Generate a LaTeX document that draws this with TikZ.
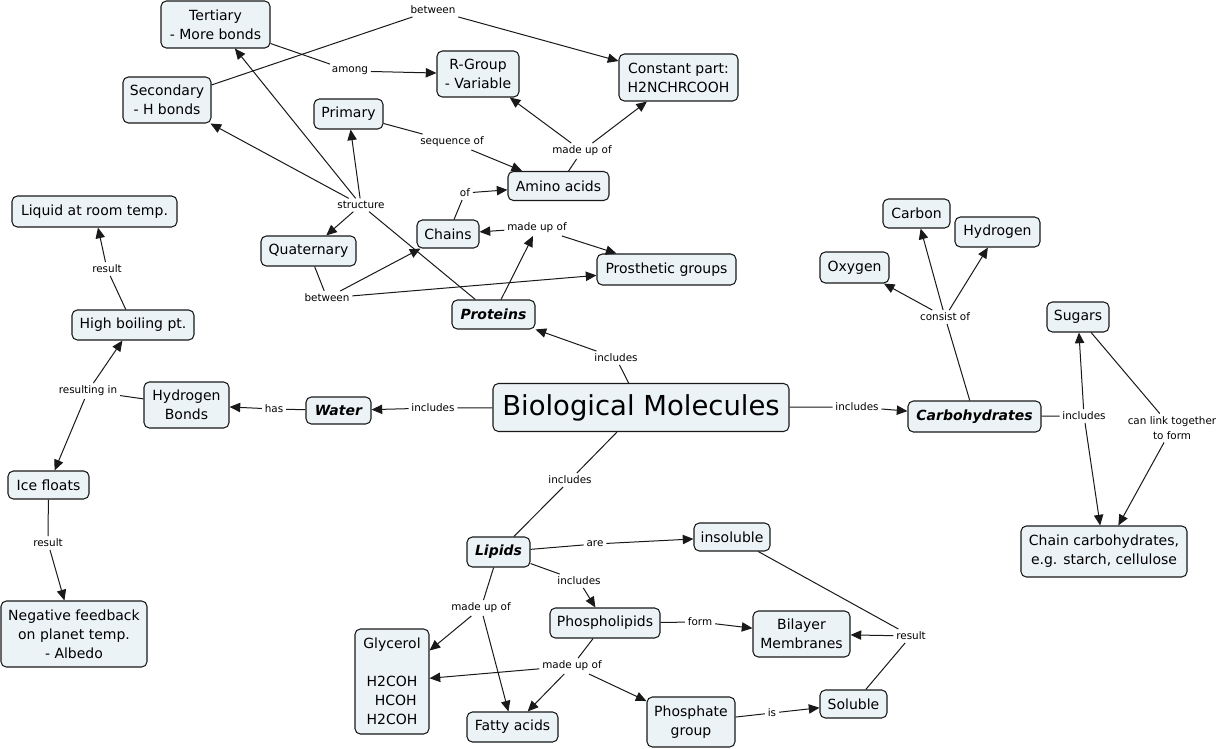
\documentclass[tikz,border=0pt]{standalone}
\usepackage{fontspec}
\setmainfont{DejaVu Sans}
\usetikzlibrary{arrows.meta}
\definecolor{cfill}{RGB}{236,243,246}
\definecolor{cline}{RGB}{25,25,25}
\begin{document}
\begin{tikzpicture}[x=0.75pt,y=-0.75pt,
 concept/.style={draw=cline, line width=0.8pt, fill=cfill, rounded corners=4pt, inner sep=0pt, align=center, font=\fontsize{10.5}{14.3}\selectfont},
 sz/.style 2 args={minimum width=#1*0.75pt, minimum height=#2*0.75pt},
 main/.style={font=\fontsize{10.5}{14.3}\selectfont\bfseries\itshape},
 lab/.style={inner sep=2pt, align=center, font=\fontsize{7.8}{11.2}\selectfont},
 arr/.style={-{Triangle[length=8pt,width=7pt]}, line width=0.75pt, draw=cline},
 ln/.style={line width=0.75pt, draw=cline},
]
\useasboundingbox (0,0) rectangle (1221,749);

% concepts
\node[concept, sz={109}{47}] (tert) at (215.5,24.5) {Tertiary\\- More bonds};
\node[concept, sz={88}{46}] (sec) at (167,100) {Secondary\\- H bonds};
\node[concept, sz={69}{30}] (prim) at (348.5,114) {Primary};
\node[concept, sz={82}{46}] (rgrp) at (478,74) {R-Group\\- Variable};
\node[concept, sz={119}{47}] (const) at (678.5,77.5) {Constant part:\\H2NCHRCOOH};
\node[concept, sz={101}{29}] (amino) at (558.5,186) {Amino acids};
\node[concept, sz={62}{28}] (chains) at (448,234) {Chains};
\node[concept, sz={95}{30}] (quat) at (308.5,251) {Quaternary};
\node[concept, sz={139}{31}] (prost) at (666.5,269.5) {Prosthetic groups};
\node[concept, main, sz={83}{29}] (prot) at (493.5,314.5) {Proteins};
\node[concept, sz={165}{31}] (liquid) at (94.5,211.5) {Liquid at room temp.};
\node[concept, sz={122}{30}] (hbp) at (133,325) {High boiling pt.};
\node[concept, sz={85}{46}] (hbond) at (186.5,405) {Hydrogen\\Bonds};
\node[concept, main, sz={65}{27}] (water) at (338.5,410.5) {Water};
\node[concept, sz={296}{48}, font=\fontsize{20.6}{24}\selectfont] (bm) at (641,407.5) {Biological Molecules};
\node[concept, sz={81}{28}] (ice) at (48.5,485) {Ice floats};
\node[concept, sz={146}{66}] (neg) at (74,634) {Negative feedback\\on planet temp.\\- Albedo};
\node[concept, sz={67}{29}] (carbon) at (916.5,213.5) {Carbon};
\node[concept, sz={85}{30}] (hydro) at (997.5,232) {Hydrogen};
\node[concept, sz={69}{31}] (oxy) at (854.5,267.5) {Oxygen};
\node[concept, sz={62}{30}] (sugars) at (1078,317) {Sugars};
\node[concept, main, sz={133}{31}] (carb) at (974.5,416.5) {Carbohydrates};
\node[concept, sz={166}{51}] (chaincarb) at (1104,551.5) {Chain carbohydrates,\\e.g. starch, cellulose};
\node[concept, main, sz={63}{30}] (lipids) at (498.5,552) {Lipids};
\node[concept, sz={76}{28}] (insol) at (732,537) {insoluble};
\node[concept, sz={110}{30}] (phospho) at (605,623) {Phospholipids};
\node[concept, sz={97}{46}] (bilayer) at (801.5,634) {Bilayer\\Membranes};
\node[concept, sz={74}{105}] (glyc) at (392,681.5) {Glycerol\\[14.3pt]H2COH\\\hspace*{0.55em}HCOH\\H2COH};
\node[concept, sz={91}{30}] (fatty) at (512.5,727) {Fatty acids};
\node[concept, sz={88}{50}] (phosph) at (691,722) {Phosphate\\group};
\node[concept, sz={67}{28}] (soluble) at (853.5,704) {Soluble};

% linking phrases
\node[lab] (lbtop) at (433,10) {between};
\node[lab] (lamong) at (350,71) {among};
\node[lab] (lstruct) at (361,205) {structure};
\node[lab] (lbbot) at (327,298) {between};
\node[lab] (lseq) at (452,142) {sequence of};
\node[lab] (lmtop) at (582,151) {made up of};
\node[lab] (lof) at (465,193) {of};
\node[lab] (lmmid) at (537,228) {made up of};
\node[lab] (liprot) at (616,358) {includes};
\node[lab] (lres1) at (107,269) {result};
\node[lab] (lresin) at (88,391) {resulting in};
\node[lab] (lhas) at (274,409) {has};
\node[lab] (liwater) at (433,408) {includes};
\node[lab] (lres2) at (48,543) {result};
\node[lab] (lconsist) at (945,317) {consist of};
\node[lab] (licarb) at (857,407) {includes};
\node[lab] (licarb2) at (1084,416) {includes};
\node[lab] (lcanlink) at (1172,428) {can link together\\to form};
\node[lab] (lilip) at (570,480) {includes};
\node[lab] (lare) at (595,544) {are};
\node[lab] (liphos) at (579,581) {includes};
\node[lab] (lmlip) at (481,608) {made up of};
\node[lab] (lform) at (700,622) {form};
\node[lab] (lres3) at (911,636) {result};
\node[lab] (lmphos) at (572,666) {made up of};
\node[lab] (lis) at (772,713) {is};

% proteins
\draw[ln] (bm) -- (liprot);
\draw[arr] (liprot) -- (prot);
\draw[ln] (prot) -- (lstruct);
\draw[arr] (lstruct) -- (prim);
\draw[arr] (lstruct) -- (sec);
\draw[arr] (lstruct) -- (tert);
\draw[arr] (lstruct) -- (quat);
\draw[ln] (quat) -- (lbbot);
\draw[arr] (lbbot) -- (chains);
\draw[arr] (lbbot) -- (prost);
\draw[arr] (prot) -- (lmmid);
\draw[arr] (lmmid) -- (chains);
\draw[arr] (lmmid) -- (prost);
\draw[ln] (chains) -- (lof);
\draw[arr] (lof) -- (amino);
\draw[ln] (prim) -- (lseq);
\draw[arr] (lseq) -- (amino);
\draw[ln] (amino) -- (lmtop);
\draw[arr] (lmtop) -- (rgrp);
\draw[arr] (lmtop) -- (const);
\draw[ln] (tert) -- (lamong);
\draw[arr] (lamong) -- (rgrp);
\draw[ln] (sec) -- (lbtop);
\draw[arr] (lbtop) -- (const);

% water
\draw[ln] (bm) -- (liwater);
\draw[arr] (liwater) -- (water);
\draw[ln] (water) -- (lhas);
\draw[arr] (lhas) -- (hbond);
\draw[ln] (hbond) -- (lresin);
\draw[arr] (lresin) -- (hbp);
\draw[arr] (lresin) -- (ice);
\draw[ln] (hbp) -- (lres1);
\draw[arr] (lres1) -- (liquid);
\draw[ln] (ice) -- (lres2);
\draw[arr] (lres2) -- (neg);

% carbohydrates
\draw[ln] (bm) -- (licarb);
\draw[arr] (licarb) -- (carb);
\draw[ln] (carb) -- (lconsist);
\draw[arr] (lconsist) -- (carbon);
\draw[arr] (lconsist) -- (hydro);
\draw[arr] (lconsist) -- (oxy);
\draw[ln] (carb) -- (licarb2);
\draw[arr] (licarb2) -- (sugars);
\draw[arr] (licarb2) -- (chaincarb);
\draw[ln] (sugars) -- (lcanlink);
\draw[arr] (lcanlink) -- (chaincarb);

% lipids
\draw[ln] (bm) -- (lilip);
\draw[ln] (lilip) -- (lipids);
\draw[ln] (lipids) -- (lare);
\draw[arr] (lare) -- (insol);
\draw[ln] (lipids) -- (liphos);
\draw[arr] (liphos) -- (phospho);
\draw[ln] (lipids) -- (lmlip);
\draw[arr] (lmlip) -- (glyc);
\draw[arr] (lmlip) -- (fatty);
\draw[ln] (phospho) -- (lform);
\draw[arr] (lform) -- (bilayer);
\draw[ln] (phospho) -- (lmphos);
\draw[arr] (lmphos) -- (glyc);
\draw[arr] (lmphos) -- (fatty);
\draw[arr] (lmphos) -- (phosph);
\draw[ln] (phosph) -- (lis);
\draw[arr] (lis) -- (soluble);
\draw[ln] (insol) -- (lres3);
\draw[ln] (soluble) -- (lres3);
\draw[arr] (lres3) -- (bilayer);
\end{tikzpicture}
\end{document}
